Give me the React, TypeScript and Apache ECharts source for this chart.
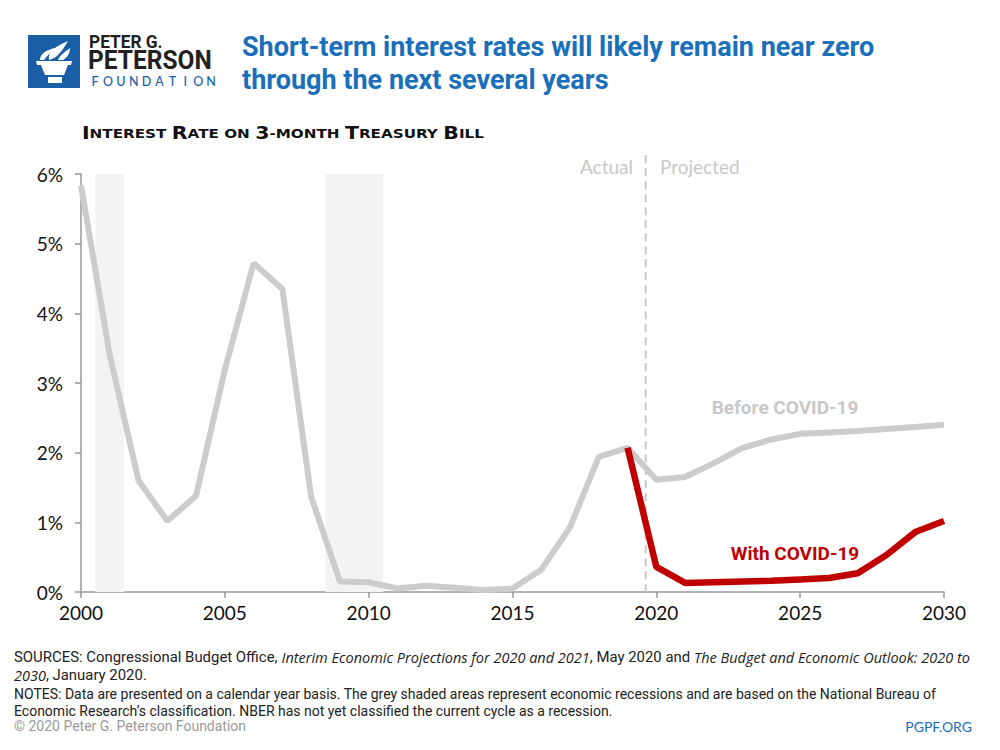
import React, { useEffect, useRef } from "react";
import * as echarts from "echarts";

const years = [2000, 2001, 2002, 2003, 2004, 2005, 2006, 2007, 2008, 2009, 2010, 2011, 2012, 2013, 2014, 2015, 2016, 2017, 2018, 2019, 2020, 2021, 2022, 2023, 2024, 2025, 2026, 2027, 2028, 2029, 2030];
const beforeCovid = [5.84, 3.4, 1.6, 1.02, 1.38, 3.19, 4.72, 4.35, 1.37, 0.15, 0.14, 0.05, 0.09, 0.06, 0.03, 0.05, 0.32, 0.93, 1.94, 2.07, 1.61, 1.65, 1.85, 2.07, 2.19, 2.27, 2.29, 2.31, 2.34, 2.37, 2.4];
const covidYears = [2019, 2020, 2021, 2022, 2023, 2024, 2025, 2026, 2027, 2028, 2029, 2030];
const withCovid = [2.07, 0.36, 0.13, 0.14, 0.15, 0.16, 0.18, 0.2, 0.27, 0.53, 0.86, 1.02];
const recessions = [
  [2000.5, 2001.5],
  [2008.5, 2010.5],
];
const projectionStart = 2019.63;
const projectionLineTop = 6.27;
const xTicks = { min: 2000, max: 2030, interval: 5 };
const yTicks = { min: 0, max: 6, interval: 1 };

const TORCH =
  "M8 26 L44 26 L43 30 L40 30 L36 40 L17 40 L13 30 L9 30 Z " +
  "M20 42 L34 42 L34 48 L20 48 Z " +
  "M21 25 C19 17 28 11 40 6 C37 11 34 16 30 20 C27 23 24 24 21 25 Z " +
  "M12 25 C12 19 18 15 27 13 C23 17 19 21 16 25 Z " +
  "M30 25 C32 20 37 17 42 13 C42 18 39 23 35 25 Z";

let registered = false;
function registerTorch() {
  if (registered) return;
  echarts.graphic.registerShape("torch", echarts.graphic.extendPath(TORCH, {}));
  registered = true;
}

const SANS = "Roboto, 'Noto Sans', sans-serif";
const LABEL_FONT = "Lato, 'Open Sans', sans-serif";
const WIDE = "'DejaVu Sans', 'Noto Sans', sans-serif";

export default function App() {
  const ref = useRef<HTMLDivElement>(null);
  useEffect(() => {
    if (!ref.current) return;
    registerTorch();
    const chart = echarts.init(ref.current, undefined, { renderer: "svg" });

    const grayData = years.map((y, i) => [y, beforeCovid[i]]);
    const redData = covidYears.map((y, i) => [y, withCovid[i]]);

    const foundation = "FOUNDATION".split("").map((ch, i) => ({
      type: "text",
      x: 95 + i * 12.9,
      y: 81.5,
      style: {
        text: ch,
        font: `500 12.5px ${LABEL_FONT}`,
        fill: "#1a5ea8",
        textAlign: "center",
        textVerticalAlign: "middle",
        lineHeight: 10,
      },
    }));

    const big = { font: `bold 17.5px ${WIDE}`, fill: "#111" };
    const small = { font: `bold 13px ${WIDE}`, fill: "#111" };

    const fn = { font: `14px ${SANS}`, fill: "#222" };
    const fi = { font: `italic 13.6px 'Open Sans', ${SANS}`, fill: "#222" };

    const baseGraphics: any[] = [
      { type: "rect", shape: { x: 28, y: 35, width: 52, height: 53 }, style: { fill: "#1a5ea8" } },
      { type: "torch", x: 28, y: 35, scaleX: 1, scaleY: 1, style: { fill: "#fff" } },
      { type: "text", x: 89, y: 41, scaleX: 0.91, style: { text: "PETER G.", font: `bold 19px ${SANS}`, fill: "#231f20", textVerticalAlign: "middle", lineHeight: 16 } },
      { type: "text", x: 88, y: 60, scaleX: 0.98, style: { text: "PETERSON", font: `bold 25px ${SANS}`, fill: "#231f20", textVerticalAlign: "middle", lineHeight: 20 } },
      ...foundation,
      {
        type: "text",
        x: 242,
        y: 47,
        style: { text: "Short-term interest rates will likely remain near zero", font: `bold 27px ${SANS}`, fill: "#1a6fba", textVerticalAlign: "middle" },
      },
      {
        type: "text",
        x: 242,
        y: 80,
        style: { text: "through the next several years", font: `bold 27px ${SANS}`, fill: "#1a6fba", textVerticalAlign: "middle" },
      },
      {
        type: "text",
        x: 82,
        y: 133,
        scaleX: 1.17,
        style: {
          text: "{b|I}{s|NTEREST }{b|R}{s|ATE ON }{b|3}{s|-MONTH }{b|T}{s|REASURY }{b|B}{s|ILL}",
          rich: { b: big, s: small },
          textVerticalAlign: "middle",
        },
      },
      { type: "text", x: 633, y: 166, style: { text: "Actual", font: `19px ${LABEL_FONT}`, fill: "#c8c8c8", textAlign: "right", textVerticalAlign: "middle" } },
      { type: "text", x: 660, y: 166, style: { text: "Projected", font: `19px ${LABEL_FONT}`, fill: "#c8c8c8", textAlign: "left", textVerticalAlign: "middle" } },
      { type: "text", x: 785, y: 407, style: { text: "Before COVID-19", font: `bold 19px ${SANS}`, fill: "#c8c8c8", textAlign: "center", textVerticalAlign: "middle" } },
      { type: "text", x: 795, y: 553, style: { text: "With COVID-19", font: `bold 19px ${SANS}`, fill: "#c00000", textAlign: "center", textVerticalAlign: "middle" } },
      {
        type: "text",
        x: 14,
        y: 658,
        scaleX: 1.066,
        style: {
          text: "{n|SOURCES: Congressional Budget Office, }{i|Interim Economic Projections for 2020 and 2021}{n|, May 2020 and }{i|The Budget and Economic Outlook: 2020 to}",
          rich: { n: fn, i: fi },
          textVerticalAlign: "middle",
        },
      },
      {
        type: "text",
        x: 14,
        y: 676,
        scaleX: 1.066,
        style: { text: "{i|2030}{n|, January 2020.}", rich: { n: fn, i: fi }, textVerticalAlign: "middle" },
      },
      {
        type: "text",
        x: 14,
        y: 694,
        style: {
          text: "NOTES: Data are presented on a calendar year basis. The grey shaded areas represent economic recessions and are based on the National Bureau of",
          font: fn.font,
          fill: fn.fill,
          textVerticalAlign: "middle",
        },
      },
      {
        type: "text",
        x: 14,
        y: 711,
        style: {
          text: "Economic Research\u2019s classification. NBER has not yet classified the current cycle as a recession.",
          font: fn.font,
          fill: fn.fill,
          textVerticalAlign: "middle",
          lineHeight: 14,
        },
      },
      { type: "text", x: 14, y: 726, style: { text: "\u00A9 2020 Peter G. Peterson Foundation", font: `14px ${SANS}`, fill: "#9a9a9a", textVerticalAlign: "middle", lineHeight: 14 } },
      { type: "text", x: 972, y: 726, style: { text: "PGPF.ORG", font: `14px ${LABEL_FONT}`, fill: "#1a6fba", textAlign: "right", textVerticalAlign: "middle", lineHeight: 14 } },
    ];

    chart.setOption({
      animation: false,
      backgroundColor: "#fff",
      grid: { left: 81, right: 56, top: 174, bottom: 158, containLabel: false },
      xAxis: {
        type: "value",
        min: xTicks.min,
        max: xTicks.max,
        interval: xTicks.interval,
        axisLine: { show: true, lineStyle: { color: "#999", width: 1.5 } },
        axisTick: { show: true, length: 6, lineStyle: { color: "#999", width: 1.5 } },
        splitLine: { show: false },
        axisLabel: { color: "#111", fontSize: 19, fontFamily: LABEL_FONT, margin: 11, formatter: (v: number) => String(v) },
      },
      yAxis: {
        type: "value",
        min: yTicks.min,
        max: yTicks.max,
        interval: yTicks.interval,
        axisLine: { show: true, lineStyle: { color: "#999", width: 1.5 } },
        axisTick: { show: true, length: 6, lineStyle: { color: "#999", width: 1.5 } },
        splitLine: { show: false },
        axisLabel: { color: "#111", fontSize: 19, fontFamily: LABEL_FONT, margin: 18, formatter: "{value}%" },
      },
      series: [
        {
          type: "line",
          name: "Before COVID-19",
          data: grayData,
          symbol: "none",
          lineStyle: { color: "#cccccc", width: 6 },
          z: 3,
          markArea: {
            silent: true,
            itemStyle: { color: "#f3f3f3" },
            data: recessions.map(([a, b]) => [{ xAxis: a }, { xAxis: b }]),
          },
        },
        {
          type: "line",
          name: "With COVID-19",
          data: redData,
          symbol: "none",
          lineStyle: { color: "#c00000", width: 6.5 },
          z: 4,
        },
      ],
      graphic: baseGraphics,
    });

    const top = chart.convertToPixel({ xAxisIndex: 0, yAxisIndex: 0 }, [projectionStart, projectionLineTop]) as number[];
    const bottom = chart.convertToPixel({ xAxisIndex: 0, yAxisIndex: 0 }, [projectionStart, 0]) as number[];
    chart.setOption({
      graphic: [
        ...baseGraphics,
        {
          type: "line",
          z: 2,
          shape: { x1: top[0], y1: top[1], x2: bottom[0], y2: bottom[1] },
          style: { stroke: "#c8c8c8", lineWidth: 2, lineDash: [8, 5] },
        },
      ],
    });

    return () => chart.dispose();
  }, []);
  return <div ref={ref} style={{ width: 1000, height: 750, position: "absolute", left: 0, top: 0 }} />;
}
